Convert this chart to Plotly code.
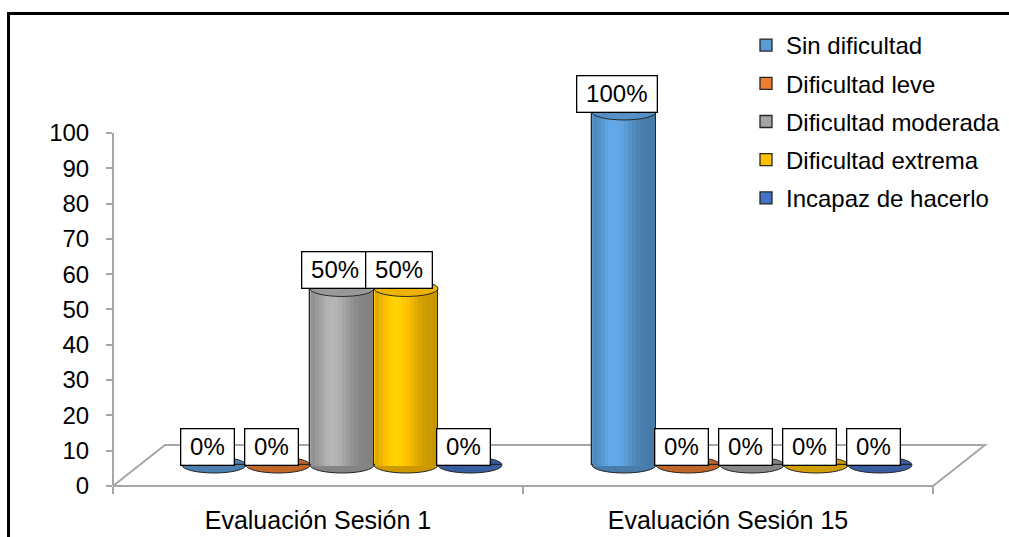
import math
import plotly.graph_objects as go

# ---------------- data ----------------
categories = ["Evaluación Sesión 1", "Evaluación Sesión 15"]
series_names = ["Sin dificultad", "Dificultad leve", "Dificultad moderada",
                "Dificultad extrema", "Incapaz de hacerlo"]
sin_dificultad = [0, 100]
dificultad_leve = [0, 0]
dificultad_moderada = [50, 0]
dificultad_extrema = [50, 0]
incapaz_de_hacerlo = [0, 0]
y_tick_values = [0, 10, 20, 30, 40, 50, 60, 70, 80, 90, 100]
series_colors = ["#5B9BD5", "#ED7D31", "#A5A5A5", "#FFC000", "#4472C4"]

series_values = [sin_dificultad, dificultad_leve, dificultad_moderada,
                 dificultad_extrema, incapaz_de_hacerlo]

# ---------------- geometry (layout only) ----------------
W, H = 1009, 537
ML, MR, MT, MB = 113, 19, 80, 51
PW, PH = W - ML - MR, H - MT - MB
CAT_PX = 410.0
XMAX = PW / CAT_PX
YMAX = 115.0
PXY = PH / YMAX


def px2x(p):
    return p / CAT_PX


def px2y(p):
    return p / PXY


BAR_W = px2x(64)
DEPTH_X = px2x(24)
BASE = px2y(21)
RY = px2y(8)
BACK_DX = px2x(52)
BACK_DY_PAPER = 41 / PH
EDGE = "#262626"
AXIS_GRAY = "#A6A6A6"
FONT = "Liberation Sans, Arial, sans-serif"
N_STRIPS = 16

xpos = [i + 0.5 for i in range(len(categories))]


def shade(hexcol, m):
    h = hexcol.lstrip("#")
    r, g, b = (int(h[i:i + 2], 16) for i in (0, 2, 4))
    c = [max(0, min(255, int(round(v * m)))) for v in (r, g, b)]
    return "rgb(%d,%d,%d)" % tuple(c)


fig = go.Figure()
shapes = []
annotations = []

# floor of the 3-D plot (axis decoration)
shapes.append(dict(
    type="path", xref="x", yref="paper", layer="below",
    path="M 0,0 L {a},0 L {b},{d} L {c},{d} Z".format(
        a=len(categories), b=len(categories) + BACK_DX, c=BACK_DX, d=BACK_DY_PAPER),
    line=dict(color=AXIS_GRAY, width=2), fillcolor="rgba(0,0,0,0)"))

# value axis line
shapes.append(dict(type="line", xref="paper", yref="y", x0=0, x1=0, y0=0,
                   y1=y_tick_values[-1], line=dict(color=AXIS_GRAY, width=2),
                   layer="above"))

# main (legend) bar traces
for k, (name, vals, col) in enumerate(zip(series_names, series_values, series_colors)):
    center_off = DEPTH_X + (k - (len(series_names) - 1) / 2) * BAR_W
    off = center_off - BAR_W / 2
    fig.add_trace(go.Bar(
        x=xpos, y=vals, base=BASE, width=BAR_W, offset=off, name=name,
        legendgroup=name, marker=dict(color=col, line=dict(color=EDGE, width=1.3)),
        hoverinfo="skip"))

# cylinder shading strips
for k, (name, vals, col) in enumerate(zip(series_names, series_values, series_colors)):
    center_off = DEPTH_X + (k - (len(series_names) - 1) / 2) * BAR_W
    inner_left = center_off - BAR_W / 2 + px2x(0.8)
    inner_w = BAR_W - 2 * px2x(0.8)
    sw = inner_w / N_STRIPS
    ext = px2y(1.2)
    strip_vals = [v + ext if v > 0 else 0 for v in vals]
    for i in range(N_STRIPS):
        t = (i + 0.5) / N_STRIPS * 2 - 1
        m = 0.78 + 0.32 * math.exp(-((t + 0.3) / 0.6) ** 2)
        fig.add_trace(go.Bar(
            x=xpos, y=strip_vals, base=BASE - ext, width=sw * 1.02,
            offset=inner_left + i * sw, showlegend=False, legendgroup=name,
            marker=dict(color=shade(col, m), line=dict(width=0)),
            hoverinfo="skip"))

# caps, bottoms and data labels
for k, (name, vals, col) in enumerate(zip(series_names, series_values, series_colors)):
    center_off = DEPTH_X + (k - (len(series_names) - 1) / 2) * BAR_W
    for j, v in enumerate(vals):
        cx = xpos[j] + center_off
        x0, x1 = cx - BAR_W / 2, cx + BAR_W / 2
        if v > 0:
            shapes.append(dict(type="circle", xref="x", yref="y", layer="below",
                               x0=x0, x1=x1, y0=BASE - RY, y1=BASE + RY,
                               fillcolor=shade(col, 0.8), line=dict(color=EDGE, width=1)))
            shapes.append(dict(type="circle", xref="x", yref="y", layer="above",
                               x0=x0, x1=x1, y0=BASE + v - RY, y1=BASE + v + RY,
                               fillcolor=shade(col, 0.93), line=dict(color=EDGE, width=1)))
        else:
            shapes.append(dict(type="circle", xref="x", yref="y", layer="below",
                               x0=x0, x1=x1, y0=BASE - RY, y1=BASE + RY,
                               fillcolor=shade(col, 0.82), line=dict(color=EDGE, width=1)))
        annotations.append(dict(
            x=cx, y=BASE + v, xref="x", yref="y", xshift=-7, yshift=18,
            text="\u2009%d%%\u2009" % v, showarrow=False,
            font=dict(family=FONT, size=24, color="black"),
            bgcolor="white", bordercolor="black", borderwidth=1.3, borderpad=4))

# outer chart frame
shapes.append(dict(type="rect", xref="paper", yref="paper",
                   x0=(8.5 - ML) / PW, x1=(W + 20 - ML) / PW,
                   y0=(H - MT - MB - (H + 20 - MT)) / PH, y1=(H - MB - 13.5) / PH,
                   line=dict(color="black", width=3), fillcolor="rgba(0,0,0,0)",
                   layer="above"))

fig.update_layout(
    template="none",
    width=W, height=H,
    margin=dict(l=ML, r=MR, t=MT, b=MB, pad=0, autoexpand=False),
    paper_bgcolor="white", plot_bgcolor="white",
    barmode="overlay", bargap=0,
    font=dict(family=FONT, size=24, color="black"),
    showlegend=True,
    legend=dict(x=(746 - ML) / PW, xanchor="left", y=(H - MB - 23) / PH, yanchor="top",
                font=dict(family=FONT, size=24, color="black"),
                bgcolor="rgba(0,0,0,0)", borderwidth=0, tracegroupgap=4,
                traceorder="grouped"),
    xaxis=dict(range=[0, XMAX], tickvals=xpos, ticktext=categories, ticks="",
               showline=False, showgrid=False, zeroline=False, automargin=False,
               tickfont=dict(family=FONT, size=25, color="black"),
               ticklabelstandoff=17,
               minor=dict(tickvals=list(range(len(categories) + 1)), ticks="outside",
                          ticklen=7, tickcolor=AXIS_GRAY, tickwidth=2, showgrid=False)),
    yaxis=dict(range=[0, YMAX], tickvals=y_tick_values, ticks="outside", ticklen=6,
               tickcolor=AXIS_GRAY, tickwidth=2, showline=False, showgrid=False,
               zeroline=False, automargin=False,
               tickfont=dict(family=FONT, size=24, color="black"),
               ticklabelstandoff=12),
    shapes=shapes,
    annotations=annotations,
)

fig.write_html("out.html")
